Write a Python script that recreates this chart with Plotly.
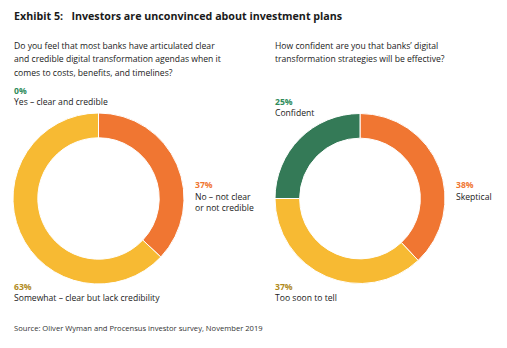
import plotly.graph_objects as go

W, H = 507, 348

left_labels = ["No – not clear or not credible", "Somewhat – clear but lack credibility", "Yes – clear and credible"]
left_values = [37, 63, 0]
right_labels = ["Skeptical", "Too soon to tell", "Confident"]
right_values = [38, 37, 25]

ORANGE = "#F07632"
YELLOW = "#F7BA33"
GREEN = "#347A57"
ORANGE_T = "#F07632"
GOLD_T = "#B08A1E"
GREEN_T = "#2E8B5A"

FONT = "Open Sans"

fig = go.Figure()

def px_x(x):
    return x / W

def px_y(y):
    return 1 - y / H

fig.add_trace(go.Pie(
    labels=left_labels, values=left_values, hole=0.71, sort=False,
    direction="clockwise", rotation=0,
    marker=dict(colors=[ORANGE, YELLOW, GREEN], line=dict(color="white", width=1)),
    textinfo="none", hoverinfo="label+percent", showlegend=False,
    domain=dict(x=[px_x(13), px_x(184)], y=[px_y(284), px_y(113)]),
))
fig.add_trace(go.Pie(
    labels=right_labels, values=right_values, hole=0.71, sort=False,
    direction="clockwise", rotation=0,
    marker=dict(colors=[ORANGE, YELLOW, GREEN], line=dict(color="white", width=1)),
    textinfo="none", hoverinfo="label+percent", showlegend=False,
    domain=dict(x=[px_x(275), px_x(445)], y=[px_y(284), px_y(113)]),
))

def txt(x, y, s, size=9, color="#1a1a1a", bold=False):
    if bold:
        s = "<b>" + s + "</b>"
    fig.add_annotation(x=px_x(x), y=px_y(y), xref="paper", yref="paper",
                       text=s, showarrow=False, xanchor="left", yanchor="middle",
                       align="left", font=dict(family=FONT, size=size, color=color))

txt(12, 16, "Exhibit 5:&nbsp;&nbsp; Investors are unconvinced about investment plans", size=10.7, bold=True)

txt(12, 46, "Do you feel that most banks have articulated clear", size=8.6)
txt(12, 59.5, "and credible digital transformation agendas when it", size=8.6)
txt(12, 73, "comes to costs, benefits, and timelines?", size=8.6)

txt(273, 46, "How confident are you that banks’ digital", size=8.6)
txt(273, 59.5, "transformation strategies will be effective?", size=8.6)

txt(12, 91, "0%", size=8.6, color=GREEN_T, bold=True)
txt(12, 102, "Yes – clear and credible", size=8.6)

txt(273, 102, "25%", size=8.6, color=GREEN_T, bold=True)
txt(273, 113, "Confident", size=8.6)

txt(193, 185, "37%", size=8.6, color=ORANGE_T, bold=True)
txt(193, 196.5, "No – not clear", size=8.6)
txt(193, 208, "or not credible", size=8.6)

txt(454, 185, "38%", size=8.6, color=ORANGE_T, bold=True)
txt(454, 196.5, "Skeptical", size=8.6)

txt(12, 287, "63%", size=8.6, color=GOLD_T, bold=True)
txt(12, 298, "Somewhat – clear but lack credibility", size=8.6)

txt(273, 287, "37%", size=8.6, color=GOLD_T, bold=True)
txt(273, 298, "Too soon to tell", size=8.6)

txt(12, 328, "Source: Oliver Wyman and Procensus investor survey, November 2019", size=7.6, color="#333333")

fig.update_layout(
    width=W, height=H, margin=dict(l=0, r=0, t=0, b=0),
    paper_bgcolor="white", plot_bgcolor="white",
)

fig.write_html("out.html")
